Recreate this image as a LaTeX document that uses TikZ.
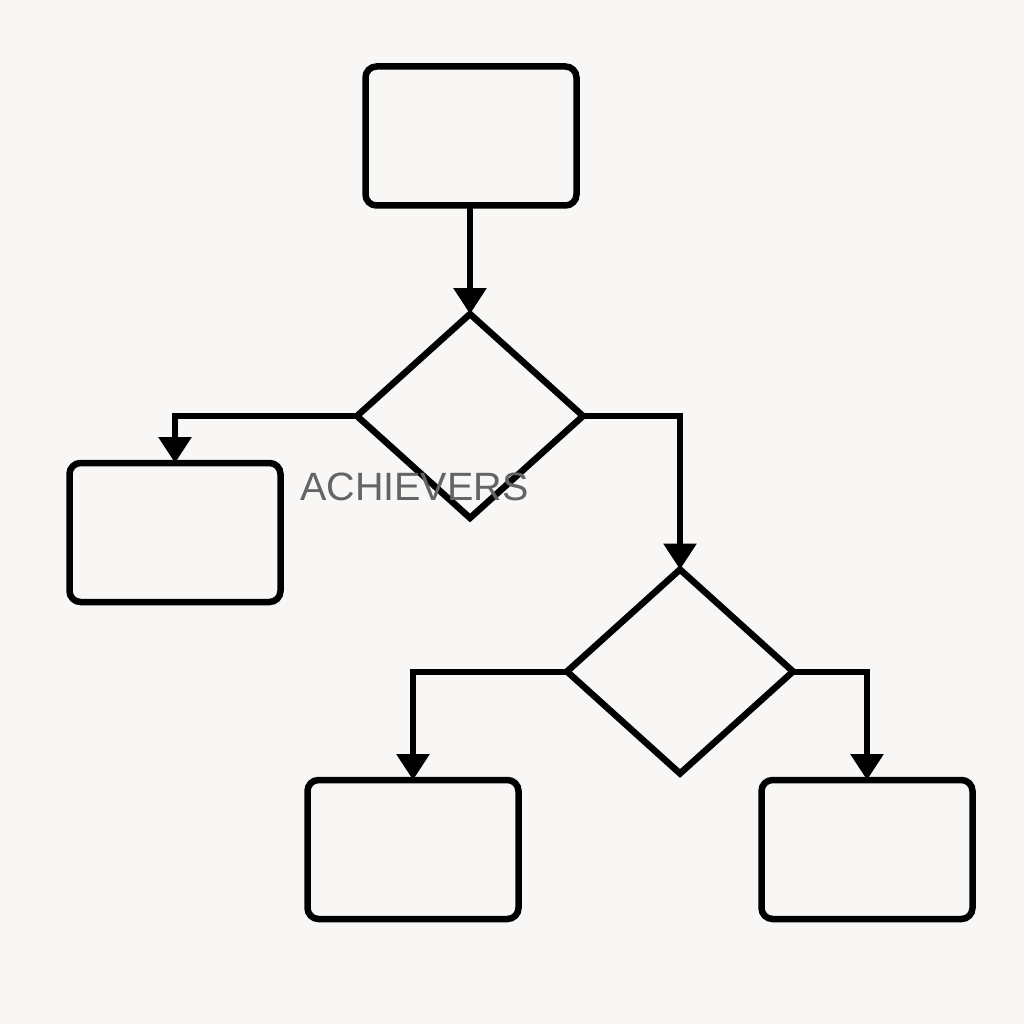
\documentclass[tikz,border=0pt]{standalone}
\usepackage{fontspec}
\setmainfont{Liberation Sans}
\usetikzlibrary{arrows.meta,shapes.geometric}
\definecolor{bgcol}{RGB}{248,247,245}
\definecolor{wmark}{RGB}{100,100,100}
\begin{document}
\begin{tikzpicture}[x=1pt,y=-1pt,
  procbox/.style={draw=black,line width=6.5pt,rounded corners=11pt,minimum width=211pt,minimum height=139pt,inner sep=0pt,outer sep=0pt},
  decbox/.style={draw=black,line width=6.5pt,diamond,minimum width=226pt,minimum height=204pt,inner sep=0pt,outer sep=0pt,line join=miter},
  conn/.style={draw=black,line width=6pt,-{Triangle[width=32pt,length=26pt]}}]
\fill[bgcol] (0,0) rectangle (1024,1024);
\useasboundingbox (0,0) rectangle (1024,1024);
\node[procbox] (top) at (471,136) {};
\node[decbox] (d1) at (470,416) {};
\node[procbox] (lbox) at (175,532.5) {};
\node[decbox] (d2) at (680,671.5) {};
\node[procbox] (blbox) at (413,849.5) {};
\node[procbox] (brbox) at (867,849.5) {};
\draw[conn] (top.south -| d1.north) -- (d1.north);
\draw[conn] (d1.west) -| (lbox.north);
\draw[conn] (d1.east) -| (d2.north);
\draw[conn] (d2.west) -| (blbox.north);
\draw[conn] (d2.east) -| (brbox.north);
\node[anchor=base west,inner sep=0pt,text=wmark,font=\fontsize{39.5}{39.5}\selectfont] (wm) at (300,500) {ACHIEVERS};
\end{tikzpicture}
\end{document}
